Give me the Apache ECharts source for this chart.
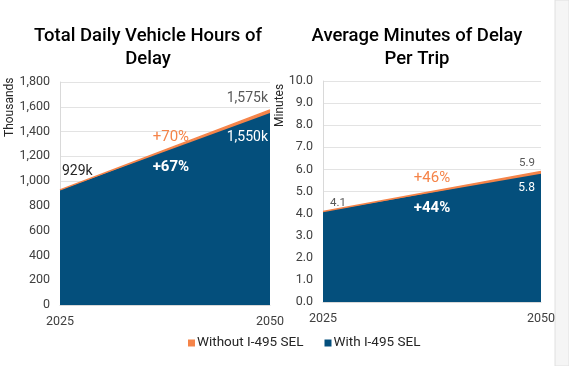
<!DOCTYPE html>
<html><head><meta charset="utf-8">
<script src="https://cdn.jsdelivr.net/npm/echarts@6/dist/echarts.min.js"></script>
<style>html,body{margin:0;padding:0;background:#fff}#c{width:569px;height:366px}</style>
</head><body><div id="c"></div>
<script>
var years = [2025, 2050];
var hoursWithout = [929, 1575];
var hoursWith = [929, 1550];
var minutesWithout = [4.1, 5.9];
var minutesWith = [4.1, 5.8];
var seriesNames = ['Without I-495 SEL', 'With I-495 SEL'];
var hoursPct = ['+70%', '+67%'];
var minutesPct = ['+46%', '+44%'];

var ORANGE = '#F58449', BLUE = '#044F7C';
var FONT = 'Roboto, "Liberation Sans", sans-serif';

function pairs(vals){ return years.map(function(y,i){ return [y, vals[i]]; }); }

var chart = echarts.init(document.getElementById('c'), null, {renderer:'canvas'});
var axisLbl = {color:'#404040', fontSize:12.5, fontFamily:FONT};
function xAx(gi){ return {type:'value', gridIndex:gi, min:years[0], max:years[1], interval:25,
  splitLine:{show:false}, axisTick:{show:false}, axisLine:{lineStyle:{color:'#d9d9d9'}},
  axisLabel:Object.assign({margin:10, formatter:function(v){return String(v);}}, axisLbl)}; }

var option = {
  animation:false,
  textStyle:{fontFamily:FONT},
  title:[
    {text:'Total Daily Vehicle Hours of\nDelay', left:143, top:20, textAlign:'center',
     textStyle:{fontSize:18.5, fontWeight:500, color:'#000', lineHeight:23, fontFamily:FONT}},
    {text:'Average Minutes of Delay\nPer Trip', left:412, top:20, textAlign:'center',
     textStyle:{fontSize:18.5, fontWeight:500, color:'#000', lineHeight:23, fontFamily:FONT}}
  ],
  legend:{data:seriesNames, left:183, top:331, icon:'rect', itemWidth:7, itemHeight:7, itemGap:21,
    textStyle:{fontSize:13.5, color:'#262626', fontFamily:FONT, padding:[0,0,0,-3]}},
  grid:[
    {left:60, right:299, top:82, bottom:61},
    {left:323, right:28, top:81, bottom:64}
  ],
  xAxis:[xAx(0), xAx(1)],
  yAxis:[
    {type:'value', gridIndex:0, min:0, max:1800, interval:200,
     axisLine:{show:true, lineStyle:{color:'#d9d9d9'}}, axisTick:{show:false},
     splitLine:{lineStyle:{color:'#e3e3e3'}},
     axisLabel:Object.assign({margin:10, formatter:function(v){return v.toLocaleString('en-US');}}, axisLbl)},
    {type:'value', gridIndex:1, min:0, max:10, interval:1,
     axisLine:{show:true, lineStyle:{color:'#d9d9d9'}}, axisTick:{show:false},
     splitLine:{lineStyle:{color:'#e3e3e3'}},
     axisLabel:Object.assign({margin:10, formatter:function(v){return v.toFixed(1);}}, axisLbl)}
  ],
  series:[
    {name:seriesNames[0], type:'line', xAxisIndex:0, yAxisIndex:0, symbol:'circle', symbolSize:0.1,
     lineStyle:{color:ORANGE, width:1.5}, itemStyle:{color:ORANGE}, areaStyle:{color:ORANGE, opacity:1},
     data:pairs(hoursWithout).map(function(p,i){
       if(i===0) return {value:p, label:{show:true, position:'top', align:'left', offset:[2,0], distance:11,
         formatter:hoursWithout[0]+'k', fontSize:14, color:'#262626'}};
       return {value:p, label:{show:true, position:'top', align:'right', offset:[-2,0], distance:4,
         formatter:hoursWithout[1].toLocaleString('en-US')+'k', fontSize:14, color:'#595959'}};
     }),
     markPoint:{symbol:'circle', symbolSize:0, silent:true,
       data:[{coord:[2038.2, 1356], label:{show:true, formatter:hoursPct[0], fontSize:15, color:ORANGE, position:'inside'}}]}
    },
    {name:seriesNames[1], type:'line', xAxisIndex:0, yAxisIndex:0, symbol:'circle', symbolSize:0.1,
     lineStyle:{color:BLUE, width:0}, itemStyle:{color:BLUE}, areaStyle:{color:BLUE, opacity:1},
     data:pairs(hoursWith).map(function(p,i){
       if(i===0) return {value:p, label:{show:false}};
       return {value:p, label:{show:true, position:'bottom', align:'right', offset:[-2,0], distance:17,
         formatter:hoursWith[1].toLocaleString('en-US')+'k', fontSize:14, color:'#fff'}};
     }),
     markPoint:{symbol:'circle', symbolSize:0, silent:true,
       data:[{coord:[2038.2, 1114], label:{show:true, formatter:hoursPct[1], fontSize:15, fontWeight:'bold', color:'#fff', position:'inside'}}]}
    },
    {name:seriesNames[0], type:'line', xAxisIndex:1, yAxisIndex:1, symbol:'circle', symbolSize:0.1,
     lineStyle:{color:ORANGE, width:1.5}, itemStyle:{color:ORANGE}, areaStyle:{color:ORANGE, opacity:1},
     data:pairs(minutesWithout).map(function(p,i){
       if(i===0) return {value:p, label:{show:true, position:'top', align:'left', offset:[7,0], distance:2,
         formatter:minutesWithout[0].toFixed(1), fontSize:11.5, color:'#595959'}};
       return {value:p, label:{show:true, position:'top', align:'right', offset:[-6,0], distance:2,
         formatter:minutesWithout[1].toFixed(1), fontSize:11.5, color:'#595959'}};
     }),
     markPoint:{symbol:'circle', symbolSize:0, silent:true,
       data:[{coord:[2037.5, 5.61], label:{show:true, formatter:minutesPct[0], fontSize:15, color:ORANGE, position:'inside'}}]}
    },
    {name:seriesNames[1], type:'line', xAxisIndex:1, yAxisIndex:1, symbol:'circle', symbolSize:0.1,
     lineStyle:{color:BLUE, width:0}, itemStyle:{color:BLUE}, areaStyle:{color:BLUE, opacity:1},
     data:pairs(minutesWith).map(function(p,i){
       if(i===0) return {value:p, label:{show:false}};
       return {value:p, label:{show:true, position:'bottom', align:'right', offset:[-6,0], distance:8,
         formatter:minutesWith[1].toFixed(1), fontSize:12, color:'#fff'}};
     }),
     markPoint:{symbol:'circle', symbolSize:0, silent:true,
       data:[{coord:[2037.5, 4.25], label:{show:true, formatter:minutesPct[1], fontSize:15, fontWeight:'bold', color:'#fff', position:'inside'}}]}
    }
  ],
  graphic:[
    {type:'text', x:4, y:137, rotation:Math.PI/2, style:{text:'Thousands', fontSize:12, fill:'#262626', fontFamily:FONT}},
    {type:'text', x:274, y:127, rotation:Math.PI/2, style:{text:'Minutes', fontSize:12, fill:'#262626', fontFamily:FONT}},
    {type:'rect', shape:{x:555, y:0, width:14, height:366}, style:{fill:'#f5f5f5', stroke:'#e0e0e0', lineWidth:1}}
  ]
};
chart.setOption(option);
</script>
</body></html>
